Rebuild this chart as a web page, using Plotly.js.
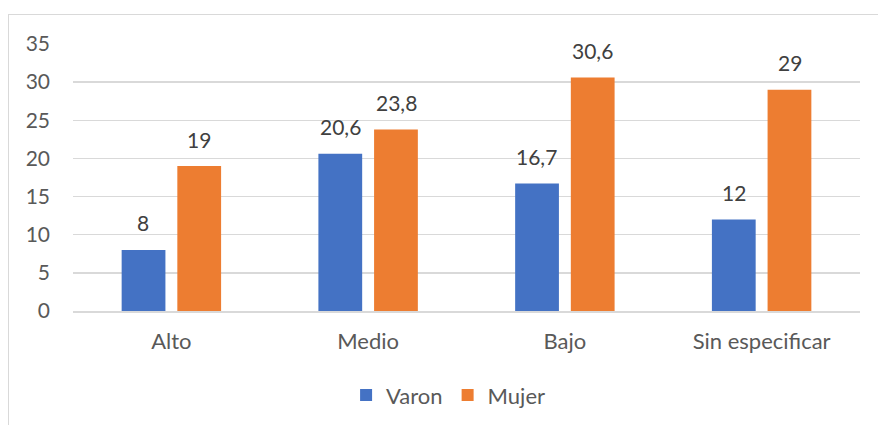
<!DOCTYPE html>
<html>
<head>
<meta charset="utf-8">
<script src="https://cdn.plot.ly/plotly-3.0.1.min.js"></script>
<style>
html,body{margin:0;padding:0;background:#fff;}
#wrap{position:relative;width:878px;height:425px;}
#frame{position:absolute;left:8px;top:14px;width:880px;height:420px;border-left:1px solid #d9d9d9;border-top:1px solid #d9d9d9;pointer-events:none;}
#chart{position:absolute;left:0;top:0;width:878px;height:425px;}
</style>
</head>
<body>
<div id="wrap">
<div id="chart"></div>
<div id="frame"></div>
</div>
<script>
const categories = ["Alto", "Medio", "Bajo", "Sin especificar"];
const varon = [8, 20.6, 16.7, 12];
const mujer = [19, 23.8, 30.6, 29];
const seriesNames = ["Varon", "Mujer"];
const yTicks = [0, 5, 10, 15, 20, 25, 30, 35];

const font = "Lato, 'Noto Sans', sans-serif";
const fmt = v => String(v).replace(".", ",");
const common = {
  type: "bar",
  x: categories,
  textposition: "none",
  hoverinfo: "none"
};
const data = [
  Object.assign({}, common, {name: seriesNames[0], y: varon, marker: {color: "#4472C4"}}),
  Object.assign({}, common, {name: seriesNames[1], y: mujer, marker: {color: "#ED7D31"}})
];
const annotations = [];
[varon, mujer].forEach((vals, si) => {
  vals.forEach((v, i) => {
    annotations.push({
      x: categories[i], y: v, xref: "x", yref: "y",
      text: fmt(v), showarrow: false,
      xanchor: "center", yanchor: "middle",
      xshift: si === 0 ? -28 : 28, yshift: 27,
      font: {family: font, size: 21, color: "#404040"}
    });
  });
});
const layout = {
  width: 878, height: 425,
  margin: {l: 73, r: 18, t: 43.5, b: 114},
  paper_bgcolor: "rgba(0,0,0,0)",
  plot_bgcolor: "#fff",
  separators: ",.",
  font: {family: font, size: 22, color: "#595959"},
  barmode: "group",
  bargap: 0.434,
  bargroupgap: 0.214,
  showlegend: true,
  annotations: annotations,
  legend: {orientation: "h", x: 0.347, xanchor: "left", xref: "paper",
           yref: "container", y: 0.07, yanchor: "middle",
           font: {family: font, size: 22, color: "#595959"}, itemwidth: 30, traceorder: "normal"},
  xaxis: {type: "category", showline: true, linecolor: "#d9d9d9", linewidth: 1.5, ticks: "",
          tickfont: {family: font, size: 22, color: "#595959"}, ticklabelstandoff: 10,
          automargin: false, fixedrange: true},
  yaxis: {range: [0, 35], tickvals: yTicks, showgrid: true, gridcolor: "#d9d9d9", gridwidth: 1.5,
          zeroline: false, showline: false, ticks: "", ticklabelstandoff: 22, automargin: false,
          tickfont: {family: font, size: 21, color: "#595959"}, fixedrange: true}
};
Plotly.newPlot("chart", data, layout, {staticPlot: true, displayModeBar: false});
</script>
</body>
</html>
